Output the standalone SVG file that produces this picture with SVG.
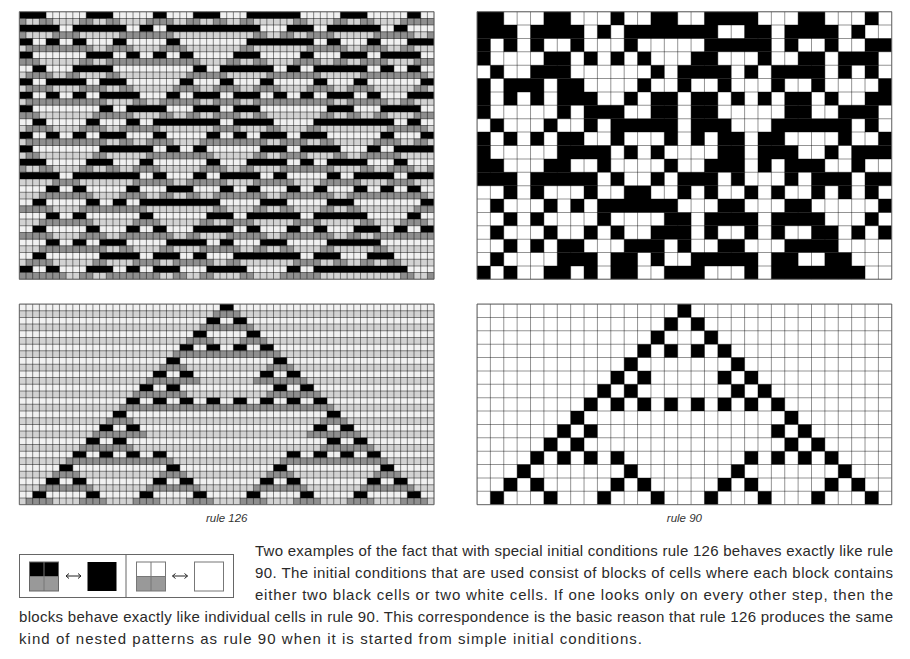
<svg xmlns="http://www.w3.org/2000/svg" width="910" height="659" viewBox="0 0 910 659">
<style>
.cap{font-family:"Liberation Sans",Arial,sans-serif;font-size:15px;fill:#2a2a2a}
.lbl{font-family:"Liberation Sans",Arial,sans-serif;font-size:11.5px;font-style:italic;fill:#333;text-anchor:middle}
.frame{fill:none;stroke:#6a6a6a;stroke-width:1;vector-effect:non-scaling-stroke}
</style>
<defs>
<clipPath id="clip20"><rect width="31" height="20"/></clipPath>
<path id="R0" d="M0 0h2v1h-2zM5 0h2v1h-2zM10 0h1v1h-1zM13 0h2v1h-2zM17 0h4v1h-4zM24 0h2v1h-2zM29 0h1v1h-1z"/>
<path id="R1" d="M0 0h3v1h-3zM4 0h4v1h-4zM9 0h1v1h-1zM11 0h7v1h-7zM20 0h2v1h-2zM23 0h4v1h-4zM28 0h1v1h-1z"/>
<path id="R2" d="M0 0h1v1h-1zM2 0h1v1h-1zM4 0h1v1h-1zM7 0h1v1h-1zM11 0h1v1h-1zM17 0h5v1h-5zM23 0h1v1h-1zM26 0h1v1h-1zM29 0h2v1h-2z"/>
<path id="R3" d="M0 0h1v1h-1zM5 0h2v1h-2zM8 0h1v1h-1zM10 0h1v1h-1zM12 0h1v1h-1zM16 0h2v1h-2zM21 0h1v1h-1zM24 0h2v1h-2zM27 0h3v1h-3z"/>
<path id="R4" d="M1 0h1v1h-1zM4 0h3v1h-3zM13 0h1v1h-1zM15 0h4v1h-4zM20 0h1v1h-1zM22 0h4v1h-4zM27 0h1v1h-1zM29 0h1v1h-1z"/>
<path id="R5" d="M0 0h1v1h-1zM2 0h3v1h-3zM6 0h2v1h-2zM12 0h1v1h-1zM15 0h1v1h-1zM18 0h1v1h-1zM22 0h1v1h-1zM25 0h1v1h-1zM30 0h1v1h-1z"/>
<path id="R6" d="M0 0h1v1h-1zM2 0h1v1h-1zM4 0h1v1h-1zM6 0h3v1h-3zM11 0h1v1h-1zM13 0h2v1h-2zM16 0h2v1h-2zM19 0h1v1h-1zM21 0h1v1h-1zM23 0h2v1h-2zM26 0h1v1h-1zM29 0h2v1h-2z"/>
<path id="R7" d="M0 0h1v1h-1zM6 0h1v1h-1zM8 0h3v1h-3zM13 0h2v1h-2zM16 0h2v1h-2zM23 0h2v1h-2zM27 0h3v1h-3z"/>
<path id="R8" d="M1 0h1v1h-1zM5 0h1v1h-1zM8 0h1v1h-1zM10 0h5v1h-5zM16 0h3v1h-3zM22 0h6v1h-6zM29 0h1v1h-1z"/>
<path id="R9" d="M0 0h1v1h-1zM2 0h1v1h-1zM4 0h1v1h-1zM6 0h2v1h-2zM10 0h1v1h-1zM14 0h1v1h-1zM16 0h1v1h-1zM18 0h2v1h-2zM21 0h2v1h-2zM27 0h1v1h-1zM30 0h1v1h-1z"/>
<path id="R10" d="M0 0h1v1h-1zM6 0h4v1h-4zM11 0h1v1h-1zM13 0h1v1h-1zM18 0h2v1h-2zM21 0h3v1h-3zM26 0h1v1h-1zM28 0h3v1h-3z"/>
<path id="R11" d="M0 0h2v1h-2zM5 0h2v1h-2zM9 0h1v1h-1zM14 0h1v1h-1zM17 0h3v1h-3zM21 0h1v1h-1zM23 0h3v1h-3zM28 0h1v1h-1z"/>
<path id="R12" d="M0 0h3v1h-3zM4 0h5v1h-5zM10 0h1v1h-1zM13 0h1v1h-1zM15 0h3v1h-3zM19 0h1v1h-1zM23 0h1v1h-1zM25 0h3v1h-3zM29 0h2v1h-2z"/>
<path id="R13" d="M2 0h1v1h-1zM4 0h1v1h-1zM8 0h1v1h-1zM11 0h2v1h-2zM15 0h1v1h-1zM17 0h1v1h-1zM20 0h1v1h-1zM22 0h1v1h-1zM25 0h1v1h-1zM27 0h1v1h-1zM29 0h1v1h-1z"/>
<path id="R14" d="M1 0h1v1h-1zM5 0h1v1h-1zM7 0h1v1h-1zM9 0h6v1h-6zM18 0h2v1h-2zM23 0h2v1h-2zM30 0h1v1h-1z"/>
<path id="R15" d="M2 0h1v1h-1zM4 0h1v1h-1zM9 0h1v1h-1zM14 0h2v1h-2zM17 0h4v1h-4zM22 0h4v1h-4zM29 0h1v1h-1z"/>
<path id="R16" d="M1 0h1v1h-1zM5 0h1v1h-1zM8 0h1v1h-1zM10 0h1v1h-1zM13 0h3v1h-3zM17 0h1v1h-1zM20 0h1v1h-1zM22 0h1v1h-1zM25 0h2v1h-2zM28 0h1v1h-1zM30 0h1v1h-1z"/>
<path id="R17" d="M2 0h1v1h-1zM4 0h1v1h-1zM6 0h2v1h-2zM11 0h3v1h-3zM15 0h1v1h-1zM18 0h2v1h-2zM23 0h4v1h-4z"/>
<path id="R18" d="M1 0h1v1h-1zM6 0h3v1h-3zM10 0h2v1h-2zM13 0h1v1h-1zM16 0h5v1h-5zM22 0h2v1h-2zM26 0h2v1h-2z"/>
<path id="R19" d="M0 0h1v1h-1zM2 0h1v1h-1zM5 0h2v1h-2zM8 0h1v1h-1zM10 0h2v1h-2zM14 0h3v1h-3zM20 0h1v1h-1zM22 0h7v1h-7z"/>
<path id="G0" d="M-.5 0h1v1h-1zM1.5 0h1v1h-1zM4.5 0h1v1h-1zM6.5 0h1v1h-1zM9.5 0h2v1h-2zM12.5 0h1v1h-1zM14.5 0h1v1h-1zM16.5 0h1v1h-1zM20.5 0h1v1h-1zM23.5 0h1v1h-1zM25.5 0h1v1h-1zM28.5 0h3v1h-3z"/>
<path id="G1" d="M-.5 0h1v1h-1zM2.5 0h2v1h-2zM7.5 0h4v1h-4zM17.5 0h1v1h-1zM19.5 0h1v1h-1zM21.5 0h2v1h-2zM26.5 0h3v1h-3zM30.5 0h1v1h-1z"/>
<path id="G2" d="M.5 0h5v1h-5zM6.5 0h2v1h-2zM10.5 0h2v1h-2zM16.5 0h1v1h-1zM21.5 0h3v1h-3zM25.5 0h2v1h-2zM28.5 0h1v1h-1z"/>
<path id="G3" d="M-.5 0h2v1h-2zM4.5 0h1v1h-1zM6.5 0h7v1h-7zM15.5 0h1v1h-1zM17.5 0h1v1h-1zM20.5 0h2v1h-2zM23.5 0h1v1h-1zM25.5 0h2v1h-2zM29.5 0h2v1h-2z"/>
<path id="G4" d="M.5 0h2v1h-2zM3.5 0h1v1h-1zM6.5 0h1v1h-1zM12.5 0h3v1h-3zM18.5 0h4v1h-4zM25.5 0h5v1h-5z"/>
<path id="G5" d="M.5 0h2v1h-2zM4.5 0h2v1h-2zM7.5 0h1v1h-1zM11.5 0h2v1h-2zM14.5 0h2v1h-2zM17.5 0h2v1h-2zM21.5 0h2v1h-2zM24.5 0h2v1h-2zM29.5 0h1v1h-1z"/>
<path id="G6" d="M.5 0h6v1h-6zM8.5 0h1v1h-1zM10.5 0h3v1h-3zM14.5 0h2v1h-2zM17.5 0h6v1h-6zM24.5 0h3v1h-3zM28.5 0h1v1h-1z"/>
<path id="G7" d="M-.5 0h2v1h-2zM5.5 0h3v1h-3zM10.5 0h1v1h-1zM12.5 0h1v1h-1zM14.5 0h2v1h-2zM17.5 0h1v1h-1zM22.5 0h1v1h-1zM24.5 0h1v1h-1zM26.5 0h1v1h-1zM29.5 0h2v1h-2z"/>
<path id="G8" d="M.5 0h2v1h-2zM4.5 0h2v1h-2zM7.5 0h3v1h-3zM14.5 0h2v1h-2zM18.5 0h1v1h-1zM21.5 0h1v1h-1zM27.5 0h3v1h-3z"/>
<path id="G9" d="M.5 0h6v1h-6zM7.5 0h1v1h-1zM9.5 0h2v1h-2zM13.5 0h5v1h-5zM19.5 0h2v1h-2zM22.5 0h1v1h-1zM26.5 0h2v1h-2zM29.5 0h1v1h-1z"/>
<path id="G10" d="M.5 0h1v1h-1zM5.5 0h1v1h-1zM9.5 0h5v1h-5zM17.5 0h1v1h-1zM19.5 0h2v1h-2zM23.5 0h1v1h-1zM25.5 0h3v1h-3z"/>
<path id="G11" d="M-.5 0h1v1h-1zM1.5 0h1v1h-1zM4.5 0h1v1h-1zM6.5 0h1v1h-1zM8.5 0h2v1h-2zM13.5 0h2v1h-2zM16.5 0h1v1h-1zM19.5 0h4v1h-4zM25.5 0h1v1h-1zM27.5 0h2v1h-2zM30.5 0h1v1h-1z"/>
<path id="G12" d="M2.5 0h2v1h-2zM8.5 0h3v1h-3zM12.5 0h3v1h-3zM17.5 0h3v1h-3zM22.5 0h3v1h-3zM27.5 0h2v1h-2z"/>
<path id="G13" d="M1.5 0h4v1h-4zM7.5 0h2v1h-2zM10.5 0h1v1h-1zM12.5 0h1v1h-1zM14.5 0h4v1h-4zM19.5 0h4v1h-4zM24.5 0h6v1h-6z"/>
<path id="G14" d="M-.5 0h3v1h-3zM4.5 0h5v1h-5zM14.5 0h1v1h-1zM17.5 0h1v1h-1zM19.5 0h1v1h-1zM22.5 0h1v1h-1zM24.5 0h1v1h-1zM29.5 0h2v1h-2z"/>
<path id="G15" d="M1.5 0h4v1h-4zM8.5 0h2v1h-2zM13.5 0h1v1h-1zM15.5 0h2v1h-2zM20.5 0h2v1h-2zM25.5 0h1v1h-1zM28.5 0h2v1h-2z"/>
<path id="G16" d="M-.5 0h3v1h-3zM4.5 0h2v1h-2zM7.5 0h4v1h-4zM12.5 0h1v1h-1zM15.5 0h3v1h-3zM19.5 0h4v1h-4zM24.5 0h1v1h-1zM26.5 0h5v1h-5z"/>
<path id="G17" d="M1.5 0h5v1h-5zM7.5 0h1v1h-1zM10.5 0h1v1h-1zM13.5 0h3v1h-3zM17.5 0h1v1h-1zM19.5 0h1v1h-1zM22.5 0h1v1h-1zM26.5 0h1v1h-1z"/>
<path id="G18" d="M.5 0h2v1h-2zM5.5 0h1v1h-1zM8.5 0h2v1h-2zM11.5 0h3v1h-3zM15.5 0h1v1h-1zM20.5 0h2v1h-2zM23.5 0h1v1h-1zM25.5 0h1v1h-1zM27.5 0h1v1h-1z"/>
<path id="G19" d="M-.5 0h4v1h-4zM4.5 0h1v1h-1zM6.5 0h4v1h-4zM11.5 0h1v1h-1zM13.5 0h1v1h-1zM16.5 0h1v1h-1zM19.5 0h3v1h-3zM28.5 0h1v1h-1zM30.5 0h1v1h-1z"/>
<path id="S0" d="M15 0h1v1h-1z"/>
<path id="S1" d="M14 0h1v1h-1zM16 0h1v1h-1z"/>
<path id="S2" d="M13 0h1v1h-1zM17 0h1v1h-1z"/>
<path id="S3" d="M12 0h1v1h-1zM14 0h1v1h-1zM16 0h1v1h-1zM18 0h1v1h-1z"/>
<path id="S4" d="M11 0h1v1h-1zM19 0h1v1h-1z"/>
<path id="S5" d="M10 0h1v1h-1zM12 0h1v1h-1zM18 0h1v1h-1zM20 0h1v1h-1z"/>
<path id="S6" d="M9 0h1v1h-1zM11 0h1v1h-1zM19 0h1v1h-1zM21 0h1v1h-1z"/>
<path id="S7" d="M8 0h1v1h-1zM10 0h1v1h-1zM12 0h1v1h-1zM14 0h1v1h-1zM16 0h1v1h-1zM18 0h1v1h-1zM20 0h1v1h-1zM22 0h1v1h-1z"/>
<path id="S8" d="M7 0h1v1h-1zM23 0h1v1h-1z"/>
<path id="S9" d="M6 0h1v1h-1zM8 0h1v1h-1zM22 0h1v1h-1zM24 0h1v1h-1z"/>
<path id="S10" d="M5 0h1v1h-1zM7 0h1v1h-1zM23 0h1v1h-1zM25 0h1v1h-1z"/>
<path id="S11" d="M4 0h1v1h-1zM6 0h1v1h-1zM8 0h1v1h-1zM10 0h1v1h-1zM20 0h1v1h-1zM22 0h1v1h-1zM24 0h1v1h-1zM26 0h1v1h-1z"/>
<path id="S12" d="M3 0h1v1h-1zM11 0h1v1h-1zM19 0h1v1h-1zM27 0h1v1h-1z"/>
<path id="S13" d="M2 0h1v1h-1zM4 0h1v1h-1zM10 0h1v1h-1zM12 0h1v1h-1zM18 0h1v1h-1zM20 0h1v1h-1zM26 0h1v1h-1zM28 0h1v1h-1z"/>
<path id="S14" d="M1 0h1v1h-1zM5 0h1v1h-1zM9 0h1v1h-1zM13 0h1v1h-1zM17 0h1v1h-1zM21 0h1v1h-1zM25 0h1v1h-1zM29 0h1v1h-1z"/>
<path id="T0" d="M14.5 0h2v1h-2z"/>
<path id="T1" d="M13.5 0h4v1h-4z"/>
<path id="T2" d="M12.5 0h2v1h-2zM16.5 0h2v1h-2z"/>
<path id="T3" d="M11.5 0h8v1h-8z"/>
<path id="T4" d="M10.5 0h2v1h-2zM18.5 0h2v1h-2z"/>
<path id="T5" d="M9.5 0h4v1h-4zM17.5 0h4v1h-4z"/>
<path id="T6" d="M8.5 0h4v1h-4zM18.5 0h4v1h-4z"/>
<path id="T7" d="M7.5 0h16v1h-16z"/>
<path id="T8" d="M6.5 0h2v1h-2zM22.5 0h2v1h-2z"/>
<path id="T9" d="M5.5 0h4v1h-4zM21.5 0h4v1h-4z"/>
<path id="T10" d="M4.5 0h4v1h-4zM22.5 0h4v1h-4z"/>
<path id="T11" d="M3.5 0h8v1h-8zM19.5 0h8v1h-8z"/>
<path id="T12" d="M2.5 0h2v1h-2zM10.5 0h2v1h-2zM18.5 0h2v1h-2zM26.5 0h2v1h-2z"/>
<path id="T13" d="M1.5 0h4v1h-4zM9.5 0h4v1h-4zM17.5 0h4v1h-4zM25.5 0h4v1h-4z"/>
<path id="T14" d="M.5 0h2v1h-2zM4.5 0h2v1h-2zM8.5 0h2v1h-2zM12.5 0h2v1h-2zM16.5 0h2v1h-2zM20.5 0h2v1h-2zM24.5 0h2v1h-2zM28.5 0h2v1h-2z"/>
</defs>
<rect width="910" height="659" fill="#fff"/>

<g id="rule126-random" transform="translate(19.3 11.7) scale(13.38)">
<rect width="31" height="20" fill="#f1f1f1"/>
<path d="M15.5 0V20" stroke="#d2d2d2" stroke-width="31" stroke-dasharray=".5 .5" stroke-dashoffset=".5" fill="none"/>
<g clip-path="url(#clip20)">
<g fill="#000">
<use href="#R0" transform="matrix(1 0 0 .5 0 0)"/><use href="#R1" transform="matrix(1 0 0 .5 0 1)"/><use href="#R2" transform="matrix(1 0 0 .5 0 2)"/><use href="#R3" transform="matrix(1 0 0 .5 0 3)"/><use href="#R4" transform="matrix(1 0 0 .5 0 4)"/><use href="#R5" transform="matrix(1 0 0 .5 0 5)"/><use href="#R6" transform="matrix(1 0 0 .5 0 6)"/><use href="#R7" transform="matrix(1 0 0 .5 0 7)"/><use href="#R8" transform="matrix(1 0 0 .5 0 8)"/><use href="#R9" transform="matrix(1 0 0 .5 0 9)"/><use href="#R10" transform="matrix(1 0 0 .5 0 10)"/><use href="#R11" transform="matrix(1 0 0 .5 0 11)"/><use href="#R12" transform="matrix(1 0 0 .5 0 12)"/><use href="#R13" transform="matrix(1 0 0 .5 0 13)"/><use href="#R14" transform="matrix(1 0 0 .5 0 14)"/><use href="#R15" transform="matrix(1 0 0 .5 0 15)"/><use href="#R16" transform="matrix(1 0 0 .5 0 16)"/><use href="#R17" transform="matrix(1 0 0 .5 0 17)"/><use href="#R18" transform="matrix(1 0 0 .5 0 18)"/><use href="#R19" transform="matrix(1 0 0 .5 0 19)"/>
</g>
<g fill="#8e8e8e">
<use href="#G0" transform="matrix(1 0 0 .5 0 .5)"/><use href="#G1" transform="matrix(1 0 0 .5 0 1.5)"/><use href="#G2" transform="matrix(1 0 0 .5 0 2.5)"/><use href="#G3" transform="matrix(1 0 0 .5 0 3.5)"/><use href="#G4" transform="matrix(1 0 0 .5 0 4.5)"/><use href="#G5" transform="matrix(1 0 0 .5 0 5.5)"/><use href="#G6" transform="matrix(1 0 0 .5 0 6.5)"/><use href="#G7" transform="matrix(1 0 0 .5 0 7.5)"/><use href="#G8" transform="matrix(1 0 0 .5 0 8.5)"/><use href="#G9" transform="matrix(1 0 0 .5 0 9.5)"/><use href="#G10" transform="matrix(1 0 0 .5 0 10.5)"/><use href="#G11" transform="matrix(1 0 0 .5 0 11.5)"/><use href="#G12" transform="matrix(1 0 0 .5 0 12.5)"/><use href="#G13" transform="matrix(1 0 0 .5 0 13.5)"/><use href="#G14" transform="matrix(1 0 0 .5 0 14.5)"/><use href="#G15" transform="matrix(1 0 0 .5 0 15.5)"/><use href="#G16" transform="matrix(1 0 0 .5 0 16.5)"/><use href="#G17" transform="matrix(1 0 0 .5 0 17.5)"/><use href="#G18" transform="matrix(1 0 0 .5 0 18.5)"/><use href="#G19" transform="matrix(1 0 0 .5 0 19.5)"/>
</g>
</g>
<path d="M0 10H31" fill="none" stroke="#000" stroke-opacity=".45" stroke-width="20" stroke-dasharray=".075 .425" stroke-dashoffset=".0375"/>
<path d="M15.5 0V20" fill="none" stroke="#000" stroke-opacity=".45" stroke-width="31" stroke-dasharray=".075 .425" stroke-dashoffset=".0375"/>
<rect class="frame" width="31" height="20"/>
</g>

<g id="rule90-random" transform="translate(477 11.7) scale(13.38)">
<rect width="31" height="20" fill="#fff"/>
<g fill="#000">
<use href="#R0"/><use href="#R1" y="1"/><use href="#R2" y="2"/><use href="#R3" y="3"/><use href="#R4" y="4"/><use href="#R5" y="5"/><use href="#R6" y="6"/><use href="#R7" y="7"/><use href="#R8" y="8"/><use href="#R9" y="9"/><use href="#R10" y="10"/><use href="#R11" y="11"/><use href="#R12" y="12"/><use href="#R13" y="13"/><use href="#R14" y="14"/><use href="#R15" y="15"/><use href="#R16" y="16"/><use href="#R17" y="17"/><use href="#R18" y="18"/><use href="#R19" y="19"/>
</g>
<path d="M0 10H31" fill="none" stroke="#000" stroke-opacity=".42" stroke-width="20" stroke-dasharray=".075 .925" stroke-dashoffset=".0375"/>
<path d="M15.5 0V20" fill="none" stroke="#000" stroke-opacity=".42" stroke-width="31" stroke-dasharray=".075 .925" stroke-dashoffset=".0375"/>
<rect class="frame" width="31" height="20"/>
</g>

<g id="rule126-simple" transform="translate(19.3 304) scale(13.38)">
<rect width="31" height="15" fill="#f1f1f1"/>
<path d="M15.5 0V15" stroke="#d2d2d2" stroke-width="31" stroke-dasharray=".5 .5" stroke-dashoffset=".5" fill="none"/>
<g fill="#000">
<use href="#S0" transform="matrix(1 0 0 .5 0 0)"/><use href="#S1" transform="matrix(1 0 0 .5 0 1)"/><use href="#S2" transform="matrix(1 0 0 .5 0 2)"/><use href="#S3" transform="matrix(1 0 0 .5 0 3)"/><use href="#S4" transform="matrix(1 0 0 .5 0 4)"/><use href="#S5" transform="matrix(1 0 0 .5 0 5)"/><use href="#S6" transform="matrix(1 0 0 .5 0 6)"/><use href="#S7" transform="matrix(1 0 0 .5 0 7)"/><use href="#S8" transform="matrix(1 0 0 .5 0 8)"/><use href="#S9" transform="matrix(1 0 0 .5 0 9)"/><use href="#S10" transform="matrix(1 0 0 .5 0 10)"/><use href="#S11" transform="matrix(1 0 0 .5 0 11)"/><use href="#S12" transform="matrix(1 0 0 .5 0 12)"/><use href="#S13" transform="matrix(1 0 0 .5 0 13)"/><use href="#S14" transform="matrix(1 0 0 .5 0 14)"/>
</g>
<g fill="#8e8e8e">
<use href="#T0" transform="matrix(1 0 0 .5 0 .5)"/><use href="#T1" transform="matrix(1 0 0 .5 0 1.5)"/><use href="#T2" transform="matrix(1 0 0 .5 0 2.5)"/><use href="#T3" transform="matrix(1 0 0 .5 0 3.5)"/><use href="#T4" transform="matrix(1 0 0 .5 0 4.5)"/><use href="#T5" transform="matrix(1 0 0 .5 0 5.5)"/><use href="#T6" transform="matrix(1 0 0 .5 0 6.5)"/><use href="#T7" transform="matrix(1 0 0 .5 0 7.5)"/><use href="#T8" transform="matrix(1 0 0 .5 0 8.5)"/><use href="#T9" transform="matrix(1 0 0 .5 0 9.5)"/><use href="#T10" transform="matrix(1 0 0 .5 0 10.5)"/><use href="#T11" transform="matrix(1 0 0 .5 0 11.5)"/><use href="#T12" transform="matrix(1 0 0 .5 0 12.5)"/><use href="#T13" transform="matrix(1 0 0 .5 0 13.5)"/><use href="#T14" transform="matrix(1 0 0 .5 0 14.5)"/>
</g>
<path d="M0 7.5H31" fill="none" stroke="#000" stroke-opacity=".45" stroke-width="15" stroke-dasharray=".075 .425" stroke-dashoffset=".0375"/>
<path d="M15.5 0V15" fill="none" stroke="#000" stroke-opacity=".45" stroke-width="31" stroke-dasharray=".075 .425" stroke-dashoffset=".0375"/>
<rect class="frame" width="31" height="15"/>
</g>

<g id="rule90-simple" transform="translate(477 304) scale(13.38)">
<rect width="31" height="15" fill="#fff"/>
<g fill="#000">
<use href="#S0"/><use href="#S1" y="1"/><use href="#S2" y="2"/><use href="#S3" y="3"/><use href="#S4" y="4"/><use href="#S5" y="5"/><use href="#S6" y="6"/><use href="#S7" y="7"/><use href="#S8" y="8"/><use href="#S9" y="9"/><use href="#S10" y="10"/><use href="#S11" y="11"/><use href="#S12" y="12"/><use href="#S13" y="13"/><use href="#S14" y="14"/>
</g>
<path d="M0 7.5H31" fill="none" stroke="#000" stroke-opacity=".42" stroke-width="15" stroke-dasharray=".075 .925" stroke-dashoffset=".0375"/>
<path d="M15.5 0V15" fill="none" stroke="#000" stroke-opacity=".42" stroke-width="31" stroke-dasharray=".075 .925" stroke-dashoffset=".0375"/>
<rect class="frame" width="31" height="15"/>
</g>

<g id="labels">
<text class="lbl" x="226.7" y="522">rule 126</text>
<text class="lbl" x="684.4" y="522">rule 90</text>
</g>

<g id="legend">
<rect x="19.5" y="554.5" width="214" height="43" fill="#fff" stroke="#666"/>
<path d="M126 554.5V597.5" stroke="#666" fill="none"/>
<rect x="29.5" y="562" width="29" height="14.5" fill="#000"/>
<rect x="29.5" y="576.5" width="29" height="14.5" fill="#999"/>
<path d="M44 562V591M29.5 576.5H58.5" stroke="#777" fill="none"/>
<rect x="29.5" y="562" width="29" height="29" fill="none" stroke="#666"/>
<path d="M66 576H81M69 573.5L66 576L69 578.5M78 573.5L81 576L78 578.5" fill="none" stroke="#222"/>
<rect x="87.5" y="562" width="29" height="29" fill="#000"/>
<rect x="136.5" y="562" width="29" height="14.5" fill="#fff"/>
<rect x="136.5" y="576.5" width="29" height="14.5" fill="#999"/>
<path d="M151 562V591M136.5 576.5H165.5" stroke="#777" fill="none"/>
<rect x="136.5" y="562" width="29" height="29" fill="none" stroke="#777"/>
<path d="M172.5 576H187.5M175.5 573.5L172.5 576L175.5 578.5M184.5 573.5L187.5 576L184.5 578.5" fill="none" stroke="#222"/>
<rect x="194.5" y="562" width="29" height="29" fill="#fff" stroke="#777"/>
</g>

<g id="caption">
<text class="cap" x="255" y="556" textLength="638" lengthAdjust="spacing">Two examples of the fact that with special initial conditions rule 126 behaves exactly like rule</text>
<text class="cap" x="255" y="578" textLength="638" lengthAdjust="spacing">90. The initial conditions that are used consist of blocks of cells where each block contains</text>
<text class="cap" x="255" y="600" textLength="638" lengthAdjust="spacing">either two black cells or two white cells. If one looks only on every other step, then the</text>
<text class="cap" x="19" y="622" textLength="874" lengthAdjust="spacing">blocks behave exactly like individual cells in rule 90. This correspondence is the basic reason that rule 126 produces the same</text>
<text class="cap" x="19" y="644" textLength="623" lengthAdjust="spacing">kind of nested patterns as rule 90 when it is started from simple initial conditions.</text>
</g>
</svg>
